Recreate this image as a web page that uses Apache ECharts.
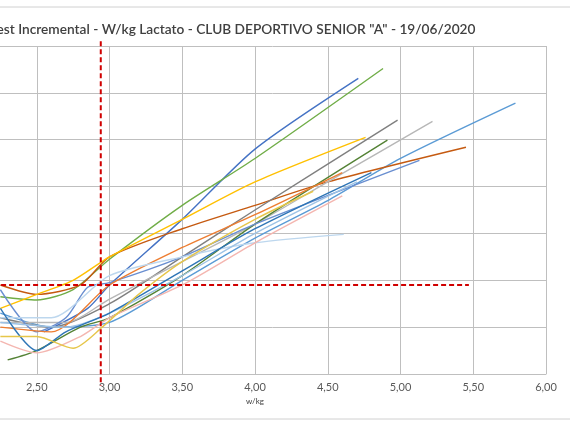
<!DOCTYPE html>
<html><head><meta charset="utf-8">
<script src="https://cdn.jsdelivr.net/npm/echarts@6/dist/echarts.min.js"></script>
<style>html,body{margin:0;background:#fff}#c{width:570px;height:425px}</style>
</head><body><div id="c"></div>
<script>
const titleText = 'Test Incremental - W/kg Lactato - CLUB DEPORTIVO SENIOR "A" - 19/06/2020';
const xTicks = [2, 6, 0.5];
const thresholdX = 2.94;
const thresholdY = 1.9;
const colors = ['#4472C4','#70AD47','#5B9BD5','#C55A11','#7F7F7F','#B7B7B7','#FFC000','#548235','#698ED0','#ED7D31','#BDD7EE','#F4B6B0','#9DC3E6','#2E75B6','#E6C64A'];
const s1 = [[2.55,0.9],[2.85,1.4],[3.0,1.9],[3.5,3.3],[4.0,4.8],[4.71,6.31]];
const s2 = [[2.25,1.65],[2.5,1.58],[2.75,1.8],[3.0,2.45],[3.5,3.6],[4.0,4.6],[4.88,6.52]];
const s3 = [[2.25,1.3],[2.6,1.0],[3.0,1.1],[3.5,2.0],[4.0,2.9],[4.5,3.7],[5.0,4.6],[5.79,5.78]];
const s4 = [[2.25,1.9],[2.5,1.7],[2.8,1.9],[3.0,2.5],[3.5,3.1],[4.0,3.6],[4.5,4.1],[5.45,4.84]];
const s5 = [[2.25,1.2],[2.6,1.0],[3.0,1.5],[3.5,2.5],[4.0,3.5],[4.98,5.42]];
const s6 = [[2.25,1.1],[2.7,1.1],[3.0,1.6],[3.5,2.4],[4.0,3.2],[4.5,4.1],[5.22,5.39]];
const s7 = [[2.25,1.4],[2.5,1.7],[2.75,2.0],[3.0,2.5],[3.5,3.3],[4.0,4.1],[4.76,5.05]];
const s8 = [[2.3,0.3],[2.5,0.5],[2.8,1.0],[3.0,1.2],[3.5,2.1],[4.0,3.2],[4.91,4.99]];
const s9 = [[2.25,1.8],[2.5,0.9],[2.7,1.2],[2.85,1.85],[3.0,1.95],[3.5,2.5],[4.0,3.2],[5.13,4.56]];
const s10 = [[2.25,1.0],[2.6,0.9],[3.0,1.9],[3.5,2.7],[4.0,3.4],[4.6,4.3]];
const s11 = [[2.25,1.2],[2.6,1.2],[3.0,2.1],[3.5,2.5],[4.0,2.8],[4.61,2.98]];
const s12 = [[2.25,0.7],[2.5,0.45],[2.8,0.8],[3.0,1.2],[3.5,1.9],[4.0,2.8],[4.6,3.8]];
const s13 = [[2.25,1.1],[2.7,1.0],[3.0,1.3],[3.5,2.1],[4.0,3.0],[4.7,4.1]];
const s14 = [[2.25,1.4],[2.5,0.5],[2.7,0.9],[3.0,1.3],[3.5,2.2],[4.0,3.1],[4.8,4.3]];
const s15 = [[2.25,0.8],[2.5,0.8],[2.75,0.55],[2.95,1.0],[3.2,1.7],[3.5,2.4],[4.0,3.3],[4.4,3.9]];
const allSeries = [s1,s2,s3,s4,s5,s6,s7,s8,s9,s10,s11,s12,s13,s14,s15];
const vLine = [[thresholdX,7.1],[thresholdX,-0.25]];
const hLine = [[2.2,thresholdY],[5.47,thresholdY]];

const series = allSeries.map((d,i)=>({type:'line',data:d,smooth:0.25,symbol:'none',clip:false,
  lineStyle:{width:1.4,color:colors[i]},z:2}));
series.push({type:'line',data:vLine,symbol:'none',clip:false,lineStyle:{color:'#D00000',width:2,type:[5,3]},z:5});
series.push({type:'line',data:hLine,symbol:'none',clip:false,lineStyle:{color:'#D00000',width:2,type:[5,3]},z:5});

const chart = echarts.init(document.getElementById('c'));
chart.setOption({
  animation:false,
  title:{text:titleText,left:-15,top:18,textStyle:{fontFamily:'Lato',fontSize:13.7,fontWeight:600,color:'#404040'}},
  grid:{left:-36,right:24,top:46,bottom:51,containLabel:false,outerBoundsMode:'none'},
  xAxis:{type:'value',min:xTicks[0],max:xTicks[1],interval:xTicks[2],name:'w/kg',nameLocation:'middle',nameGap:22,
    nameTextStyle:{fontSize:8,color:'#404040',fontFamily:'Lato'},
    axisLine:{show:true,lineStyle:{color:'#BFBFBF'}},axisTick:{show:false},
    axisLabel:{color:'#595959',fontSize:11,fontFamily:'Lato',formatter:v=>v.toFixed(2).replace('.',',')},
    splitLine:{lineStyle:{color:'#BFBFBF'}}},
  yAxis:{type:'value',min:0,max:7,interval:1,axisLabel:{show:false},axisLine:{show:false},axisTick:{show:false},
    splitLine:{lineStyle:{color:'#BFBFBF'}}},
  graphic:[
    {type:'line',shape:{x1:0,y1:7,x2:570,y2:7},style:{stroke:'#D0D0D0',lineWidth:1}},
    {type:'line',shape:{x1:0,y1:419,x2:570,y2:419},style:{stroke:'#D0D0D0',lineWidth:1}}
  ],
  series
});
</script></body></html>
